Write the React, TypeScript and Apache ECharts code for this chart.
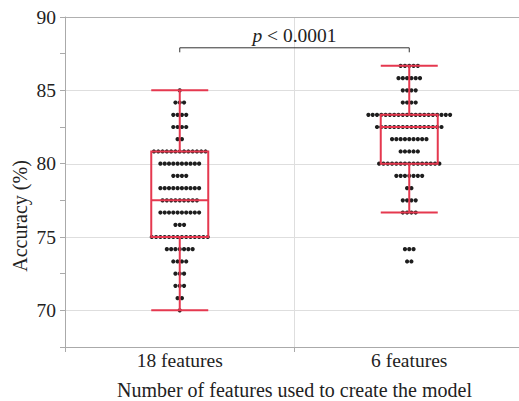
import React, { useEffect, useRef } from "react";
import * as echarts from "echarts";

const categories = ["18 features", "6 features"];

// dot rows: accuracy values and number of models at each value
const rowValues18 = [85, 84.17, 83.33, 82.5, 81.67, 80.83, 80, 79.17, 78.33, 77.5, 76.67, 75.83, 75, 74.17, 73.33, 72.5, 71.67, 70.83, 70];
const rowCounts18 = [1, 3, 4, 4, 2, 13, 10, 4, 10, 9, 10, 3, 14, 7, 4, 3, 3, 2, 1];

const rowValues6 = [86.67, 85.83, 85, 84.17, 83.33, 82.5, 81.67, 80.83, 80, 79.17, 78.33, 77.5, 76.67, 74.17, 73.33];
const rowCounts6 = [5, 6, 4, 4, 20, 16, 9, 5, 15, 7, 2, 4, 4, 3, 2];

// box plot stats: [min, Q1, median, Q3, max]
const box18 = [70, 75, 77.5, 80.83, 85];
const box6 = [76.67, 80, 82.5, 83.33, 86.67];

const gridValues = [70, 75, 80, 85, 90];
const bracketValue = 87.9;
const pLabel = "p < 0.0001";

const FONT = "'Liberation Serif', 'Times New Roman', serif";
const RED = "#e5384f";

export default function App() {
  const ref = useRef<HTMLDivElement>(null);
  useEffect(() => {
    if (!ref.current) return;
    const chart = echarts.init(ref.current, undefined, { renderer: "svg" });

    const dots: number[][] = [];
    const addGroup = (cat: number, vals: number[], counts: number[]) => {
      vals.forEach((v, r) => {
        const n = counts[r];
        for (let i = 0; i < n; i++) dots.push([cat, v, i - (n - 1) / 2]);
      });
    };
    addGroup(0, rowValues18, rowCounts18);
    addGroup(1, rowValues6, rowCounts6);

    const SPACING = 4.3;

    chart.setOption({
      animation: false,
      grid: { left: 65, width: 459, top: 17, height: 330, outerBoundsMode: "none", containLabel: false },
      xAxis: {
        type: "category",
        data: categories,
        boundaryGap: true,
        axisLine: { show: true, lineStyle: { color: "#aaa", width: 1 } },
        axisTick: { show: true, length: 5, lineStyle: { color: "#aaa" } },
        axisLabel: { color: "#222", fontFamily: FONT, fontSize: 19.5, margin: 3 },
        splitLine: { show: true, lineStyle: { color: "#dedede", width: 1 } },
        name: "Number of features used to create the model",
        nameLocation: "middle",
        nameGap: 33,
        nameTextStyle: { color: "#222", fontFamily: FONT, fontSize: 20 },
      },
      yAxis: {
        type: "value",
        min: 67.5,
        max: 90,
        interval: 2.5,
        axisLine: { show: true, lineStyle: { color: "#aaa", width: 1 } },
        axisTick: { show: true, length: 5, lineStyle: { color: "#aaa" } },
        axisLabel: {
          color: "#222",
          fontFamily: FONT,
          fontSize: 19.5,
          margin: 9,
          formatter: (v: number) => (Math.abs(v % 5) < 1e-6 ? String(v) : ""),
        },
        splitLine: { show: false },
      },
      graphic: [
        {
          type: "text",
          x: 20,
          y: 216,
          rotation: Math.PI / 2,
          style: {
            text: "Accuracy (%)",
            font: `20px ${FONT}`,
            fill: "#222",
            align: "center",
            verticalAlign: "middle",
          },
        },
      ],
      series: [
        {
          type: "custom",
          z: 0,
          silent: true,
          clip: false,
          data: gridValues.map((v) => [0, v]),
          encode: { x: 0, y: 1 },
          renderItem: (params: any, api: any) => {
            const cs = params.coordSys;
            const y = Math.round(api.coord([0, api.value(1)])[1]) + 0.5;
            return {
              type: "line",
              shape: { x1: cs.x, y1: y, x2: cs.x + cs.width, y2: y },
              style: { stroke: api.value(1) === 90 ? "#b0b0b0" : "#dedede", lineWidth: 1 },
            };
          },
        },
        {
          type: "custom",
          z: 2,
          clip: false,
          data: dots,
          encode: { x: 0, y: 1 },
          renderItem: (params: any, api: any) => {
            const p = api.coord([api.value(0), api.value(1)]);
            return {
              type: "circle",
              shape: { cx: p[0] + api.value(2) * SPACING, cy: p[1], r: 2.1 },
              style: { fill: "#1e1e1e" },
            };
          },
        },
        {
          type: "boxplot",
          z: 3,
          boxWidth: [57, 57],
          data: [box18, box6],
          itemStyle: { color: "rgba(0,0,0,0)", borderColor: RED, borderWidth: 2 },
        },
        {
          type: "custom",
          z: 4,
          clip: false,
          data: [[0, bracketValue, 1]],
          encode: { x: 0, y: 1 },
          renderItem: (params: any, api: any) => {
            const a = api.coord([api.value(0), api.value(1)]);
            const b = api.coord([api.value(2), api.value(1)]);
            return {
              type: "group",
              children: [
                {
                  type: "polyline",
                  shape: { points: [[a[0], a[1] + 4.5], [a[0], a[1]], [b[0], a[1]], [b[0], a[1] + 4.5]] },
                  style: { stroke: "#333", lineWidth: 1, fill: "none" },
                },
                {
                  type: "text",
                  x: (a[0] + b[0]) / 2,
                  y: a[1] - 12,
                  style: {
                    text: "{i|p}" + pLabel.slice(1),
                    font: `19.5px ${FONT}`,
                    fill: "#222",
                    align: "center",
                    verticalAlign: "middle",
                    rich: { i: { fontStyle: "italic", fontFamily: FONT, fontSize: 19.5, fill: "#222" } },
                  },
                },
              ],
            };
          },
        },
      ],
    });
    return () => chart.dispose();
  }, []);
  return <div ref={ref} style={{ position: "absolute", left: 0, top: 0, width: 519, height: 401 }} />;
}
